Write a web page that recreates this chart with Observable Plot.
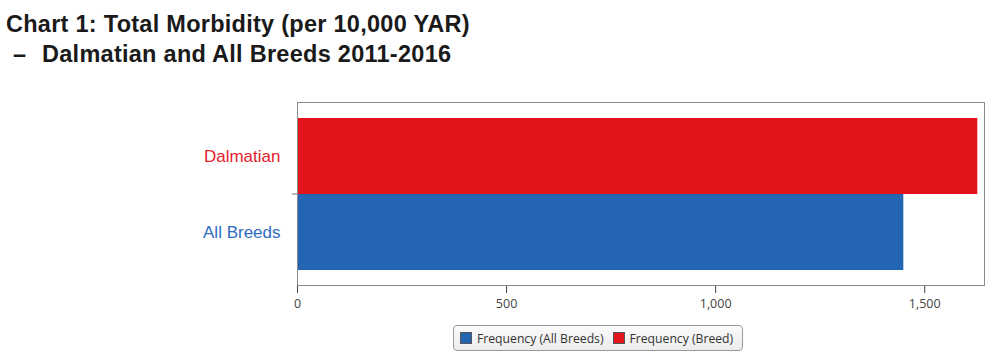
<!DOCTYPE html>
<html>
<head>
<meta charset="utf-8">
<script src="https://cdn.jsdelivr.net/npm/d3@7"></script>
<script src="https://cdn.jsdelivr.net/npm/@observablehq/plot@0.6"></script>
<style>
  html, body { margin: 0; padding: 0; background: #fff; }
  body { width: 1000px; height: 358px; overflow: hidden; position: relative; }
  #title { position: relative; height: 72px; font-family: "Liberation Sans", Arial, sans-serif; font-weight: bold; font-size: 23.5px; line-height: 30px; color: #1a1a1a; white-space: pre; letter-spacing: 0.27px; }
  #title div { position: absolute; }
  #chart svg { display: block; }
  #legend { position: absolute; left: 453px; top: 325px; width: 288px; height: 24px; border: 1px solid #9a9a9a; border-radius: 4px; background: linear-gradient(#fbfbfb, #ececec); font-family: "Open Sans", sans-serif; font-size: 12.2px; color: #333; display: flex; align-items: center; box-sizing: content-box; }
  .item { display: flex; align-items: center; }
  .sw { width: 10px; height: 10px; border: 1px solid #555; margin: 0 5px 0 0; }
</style>
</head>
<body>
<div id="title">
  <div style="left:6px; top:9px">Chart 1: Total Morbidity (per 10,000 YAR)</div>
  <div style="left:13px; top:39px">–</div>
  <div style="left:42px; top:39px">Dalmatian and All Breeds 2011-2016</div>
</div>
<div id="chart"></div>
<div id="legend"></div>
<script>
const categories = ["Dalmatian", "All Breeds"];
const values = [1627, 1450];
const seriesNames = ["Frequency (Breed)", "Frequency (All Breeds)"];
const barColors = ["#e3141c", "#2465b3"];
const labelColors = ["#e5222b", "#2e6cc0"];
const xTicks = [0, 500, 1000, 1500];

const data = categories.map((c, i) => ({name: c, value: values[i], fill: barColors[i], label: labelColors[i]}));

const separator = (index, scales) => {
  const y = scales.y;
  const yy = y(categories[0]) + (y.bandwidth ? y.bandwidth() : 0);
  const x0 = scales.x(0);
  const g = d3.create("svg:g");
  g.append("line").attr("x1", x0 - 5).attr("x2", x0).attr("y1", yy).attr("y2", yy).attr("stroke", "#777");
  return g.node();
};

const chart = Plot.plot({
  width: 1000,
  height: 243,
  marginLeft: 297,
  marginRight: 16,
  marginTop: 30,
  marginBottom: 30,
  style: {fontFamily: "Open Sans, sans-serif", fontSize: "12.5px", color: "#444", background: "transparent"},
  x: {domain: [0, 1643], ticks: xTicks, tickFormat: d3.format(","), tickSize: 8, tickPadding: 6, label: null},
  y: {domain: categories, axis: null, paddingInner: 0, paddingOuter: 0.19},
  marks: [
    Plot.barX(data, {y: "name", x: "value", fill: "fill", inset: 0}),
    Plot.frame({stroke: "#8a8a8a"}),
    Plot.text(data, {y: "name", x: 0, text: "name", fill: "label", textAnchor: "end", dx: -17, fontSize: 17, fontFamily: "Liberation Sans, Arial, sans-serif"}),
    separator
  ]
});
document.getElementById("chart").appendChild(chart);

const legend = document.getElementById("legend");
[1, 0].forEach((i, k) => {
  const it = document.createElement("div");
  it.className = "item";
  it.style.marginLeft = k === 0 ? "6px" : "9px";
  const sw = document.createElement("div");
  sw.className = "sw";
  sw.style.background = barColors[i];
  const t = document.createElement("span");
  t.textContent = seriesNames[i];
  it.appendChild(sw); it.appendChild(t);
  legend.appendChild(it);
});
</script>
</body>
</html>
